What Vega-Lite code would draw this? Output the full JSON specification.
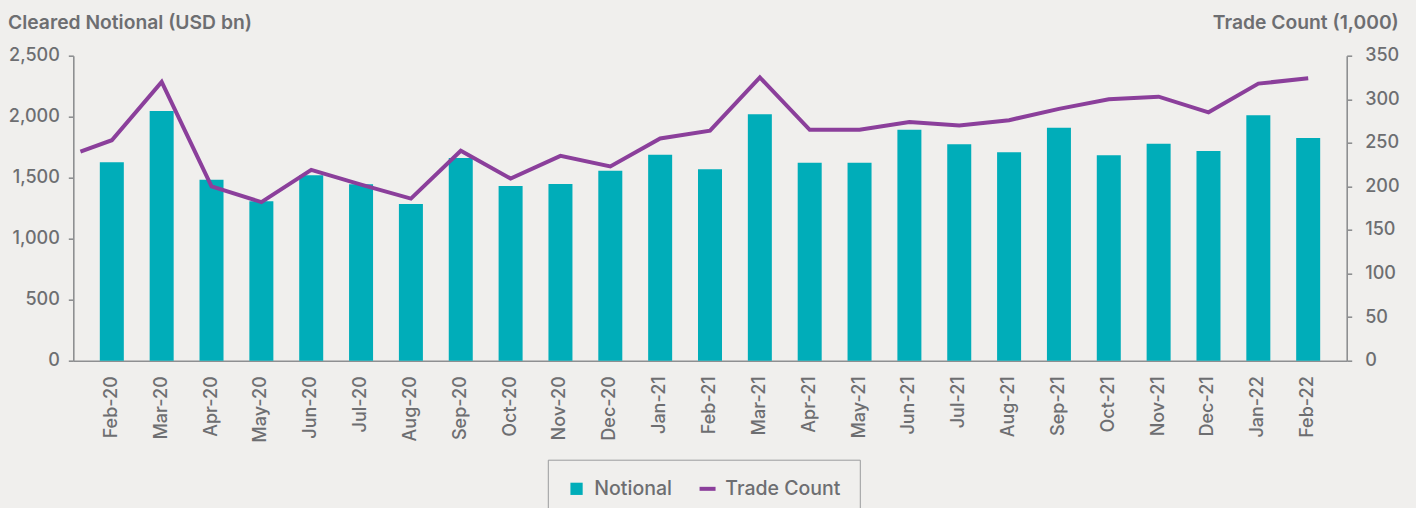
{
  "$schema": "https://vega.github.io/schema/vega-lite/v6.json",
  "autosize": "none",
  "width": 1273.4,
  "height": 305,
  "padding": {"left": 73.3, "top": 55.7, "right": 69.3, "bottom": 147.3},
  "background": "#f0efed",
  "config": {
    "view": {"stroke": null},
    "font": "Inter",
    "axis": {
      "labelFont": "Inter",
      "labelFontSize": 18,
      "labelColor": "#6d6e71",
      "labelFontWeight": 500,
      "titleFont": "Inter",
      "titleFontSize": 19.3,
      "titleFontWeight": 600,
      "titleColor": "#6d6e71",
      "domainColor": "#8e8f91",
      "domainWidth": 1.6,
      "tickColor": "#8e8f91",
      "tickWidth": 1.6,
      "grid": false
    },
    "legend": {
      "labelFont": "Inter",
      "labelFontSize": 19.5,
      "labelFontWeight": 500,
      "labelColor": "#6d6e71"
    }
  },
  "data": {
    "values": [
      {"idx": -0.63, "trades": 240},
      {"idx": 0, "month": "Feb-20", "notional": 1626, "trades": 253},
      {"idx": 1, "month": "Mar-20", "notional": 2047, "trades": 320},
      {"idx": 2, "month": "Apr-20", "notional": 1484, "trades": 200},
      {"idx": 3, "month": "May-20", "notional": 1306, "trades": 182},
      {"idx": 4, "month": "Jun-20", "notional": 1520, "trades": 219},
      {"idx": 5, "month": "Jul-20", "notional": 1446, "trades": 202},
      {"idx": 6, "month": "Aug-20", "notional": 1284, "trades": 186},
      {"idx": 7, "month": "Sep-20", "notional": 1661, "trades": 241},
      {"idx": 8, "month": "Oct-20", "notional": 1432, "trades": 209},
      {"idx": 9, "month": "Nov-20", "notional": 1448, "trades": 235},
      {"idx": 10, "month": "Dec-20", "notional": 1557, "trades": 223},
      {"idx": 11, "month": "Jan-21", "notional": 1689, "trades": 255},
      {"idx": 12, "month": "Feb-21", "notional": 1569, "trades": 264},
      {"idx": 13, "month": "Mar-21", "notional": 2020, "trades": 325},
      {"idx": 14, "month": "Apr-21", "notional": 1623, "trades": 265},
      {"idx": 15, "month": "May-21", "notional": 1623, "trades": 265},
      {"idx": 16, "month": "Jun-21", "notional": 1893, "trades": 274},
      {"idx": 17, "month": "Jul-21", "notional": 1774, "trades": 270},
      {"idx": 18, "month": "Aug-21", "notional": 1708, "trades": 276},
      {"idx": 19, "month": "Sep-21", "notional": 1910, "trades": 289},
      {"idx": 20, "month": "Oct-21", "notional": 1683, "trades": 300},
      {"idx": 21, "month": "Nov-21", "notional": 1779, "trades": 303},
      {"idx": 22, "month": "Dec-21", "notional": 1719, "trades": 285},
      {"idx": 23, "month": "Jan-22", "notional": 2011, "trades": 318},
      {"idx": 24, "month": "Feb-22", "notional": 1825, "trades": 324}
    ]
  },
  "layer": [
    {
      "transform": [{"filter": "datum.notional != null"}],
      "mark": {"type": "bar"},
      "encoding": {
        "x": {
          "field": "month",
          "type": "nominal",
          "sort": null,
          "scale": {"paddingInner": 0.5185, "paddingOuter": 0.532},
          "axis": {"title": null, "labelAngle": -90, "ticks": false, "tickSize": 0, "labelPadding": 15}
        },
        "y": {
          "field": "notional",
          "type": "quantitative",
          "scale": {"domain": [0, 2500], "nice": false},
          "axis": {
            "orient": "left",
            "values": [0, 500, 1000, 1500, 2000, 2500],
            "format": ",.0f",
            "tickSize": 5,
            "labelPadding": 9,
            "title": "Cleared Notional (USD bn)",
            "titleAngle": 0,
            "titleAlign": "left",
            "titleBaseline": "alphabetic",
            "titleX": -65.8,
            "titleY": -27.5
          }
        },
        "color": {
          "datum": "Notional",
          "type": "nominal",
          "scale": {"domain": ["Notional", "Trade Count"], "range": ["#00adb9", "#8b3f9b"]},
          "legend": {
            "title": null,
            "orient": "none",
            "direction": "horizontal",
            "legendX": 474.5,
            "legendY": 404,
            "padding": 19,
            "strokeColor": "#9a9b9d",
            "fillColor": null,
            "symbolSize": 150,
            "labelOffset": 8,
            "columnPadding": 18,
            "encode": {
              "symbols": {
                "update": {
                  "shape": {"signal": "datum.value === 'Notional' ? 'square' : 'stroke'"},
                  "size": {"signal": "datum.value === 'Notional' ? 150 : 256"},
                  "fill": {"signal": "datum.value === 'Notional' ? '#00adb9' : 'transparent'"},
                  "stroke": {"signal": "datum.value === 'Notional' ? 'transparent' : '#8b3f9b'"},
                  "strokeWidth": {"signal": "datum.value === 'Notional' ? 0 : 4"}
                }
              }
            }
          }
        }
      }
    },
    {
      "mark": {"type": "line", "strokeWidth": 4},
      "encoding": {
        "x": {
          "field": "idx",
          "type": "quantitative",
          "scale": {"domain": [-0.773, 24.772], "nice": false, "zero": false},
          "axis": null
        },
        "y": {
          "field": "trades",
          "type": "quantitative",
          "scale": {"domain": [0, 350], "nice": false},
          "axis": {
            "orient": "right",
            "values": [0, 50, 100, 150, 200, 250, 300, 350],
            "tickSize": 5,
            "labelPadding": 13,
            "title": "Trade Count (1,000)",
            "titleAngle": 0,
            "titleAlign": "right",
            "titleBaseline": "alphabetic",
            "titleX": 51.6,
            "titleY": -27.5
          }
        },
        "color": {"datum": "Trade Count", "type": "nominal"}
      }
    }
  ],
  "resolve": {"scale": {"x": "independent", "y": "independent"}}
}
